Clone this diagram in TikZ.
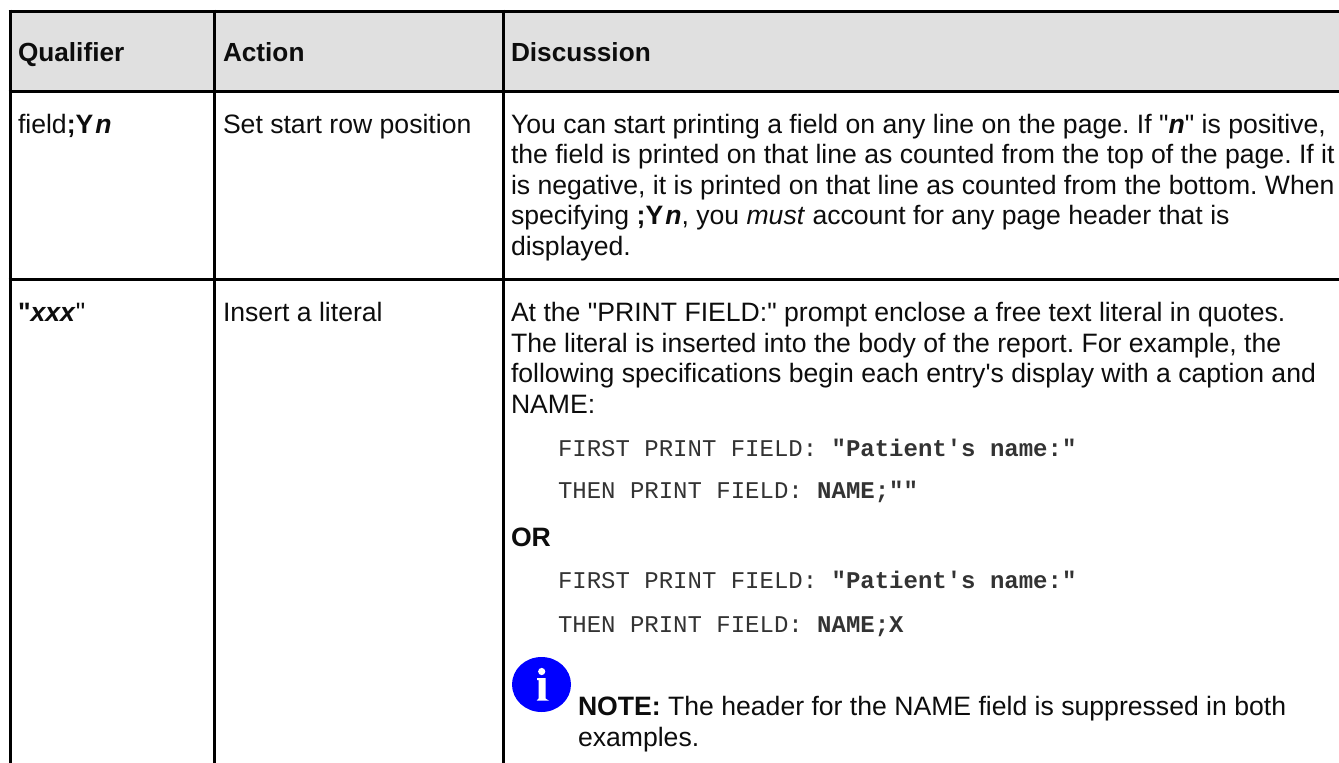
\documentclass[tikz,border=0pt]{standalone}
\usepackage{fontspec}
\setmainfont{Liberation Sans}
\setmonofont{Liberation Mono}
\newfontfamily\plainsans{Liberation Sans}
\newcommand{\boldit}[1]{\textbf{\textit{#1}}}
\begin{document}
\frenchspacing
\begin{tikzpicture}[x=1pt,y=-1pt,
  rule/.style={line width=3pt,black,line cap=butt},
  txt/.style={anchor=base west,inner sep=0pt,outer sep=0pt,font=\fontsize{26.6}{30}\selectfont\plainsans,text=black!95},
  head/.style={txt,font=\fontsize{26.2}{30}\selectfont\plainsans\bfseries},
  code/.style={anchor=base west,inner sep=0pt,outer sep=0pt,font=\fontsize{24}{28}\selectfont\ttfamily,text=black!80}]
\useasboundingbox (0,0) rectangle (1339,763);
\fill[white] (0,0) rectangle (1339,763);
\fill[fill=black!12] (10,11) rectangle (1339,91);
% table rules
\draw[rule] (8.5,11) -- (1339,11);
\draw[rule] (8.5,91) -- (1339,91);
\draw[rule] (8.5,279) -- (1339,279);
\draw[rule] (10,9.5) -- (10,763);
\draw[rule] (214,9.5) -- (214,763);
\draw[rule] (503,9.5) -- (503,763);
% header
\node[head] (h1) at (18,61) {Qualifier};
\node[head] (h2) at (223,61) {Action};
\node[head] (h3) at (511,61) {Discussion};
% row 1
\node[txt] (q1) at (18,133) {field\textbf{;Y}\kern2pt\boldit{n}};
\node[txt] (a1) at (223,133) {Set start row position};
\node[txt] (d1a) at (511,133) {You can start printing a field on any line on the page. If "\boldit{n}" is positive,};
\node[txt] (d1b) at (511,163) {the field is printed on that line as counted from the top of the page. If it};
\node[txt] (d1c) at (511,194) {is negative, it is printed on that line as counted from the bottom. When};
\node[txt] (d1d) at (511,224) {specifying \textbf{;Y}\kern2pt\boldit{n}, you \textit{must} account for any page header that is};
\node[txt] (d1e) at (511,255) {displayed.};
% row 2
\node[txt] (q2) at (18,321) {\textbf{"}\boldit{xxx}"};
\node[txt] (a2) at (223,321) {Insert a literal};
\node[txt] (d2a) at (511,321) {At the "PRINT FIELD:" prompt enclose a free text literal in quotes.};
\node[txt] (d2b) at (511,352) {The literal is inserted into the body of the report. For example, the};
\node[txt] (d2c) at (511,382) {following specifications begin each entry's display with a caption and};
\node[txt] (d2d) at (511,413) {NAME:};
\node[code] (c1) at (558,456) {FIRST PRINT FIELD: \textbf{"Patient's name:"}};
\node[code] (c2) at (558,498) {THEN PRINT FIELD: \textbf{NAME;""}};
\node[txt] (or) at (511,546) {\textbf{OR}};
\node[code] (c3) at (558,588) {FIRST PRINT FIELD: \textbf{"Patient's name:"}};
\node[code] (c4) at (558,632) {THEN PRINT FIELD: \textbf{NAME;X}};
% note icon
\fill[fill=blue] (541.5,684.5) ellipse (29.5 and 27.5);
\fill[white] (541.7,671.5) circle (3.6);
\fill[white] (537,678) -- (545.5,678) -- (545.5,698.5) -- (549,700.7) -- (536.7,700.7) -- (538.5,698.5) -- (538.5,680) -- (537,680) -- cycle;
\node[txt] (n1) at (578,715) {\textbf{NOTE:} The header for the NAME field is suppressed in both};
\node[txt] (n2) at (578,746) {examples.};
\end{tikzpicture}
\end{document}
